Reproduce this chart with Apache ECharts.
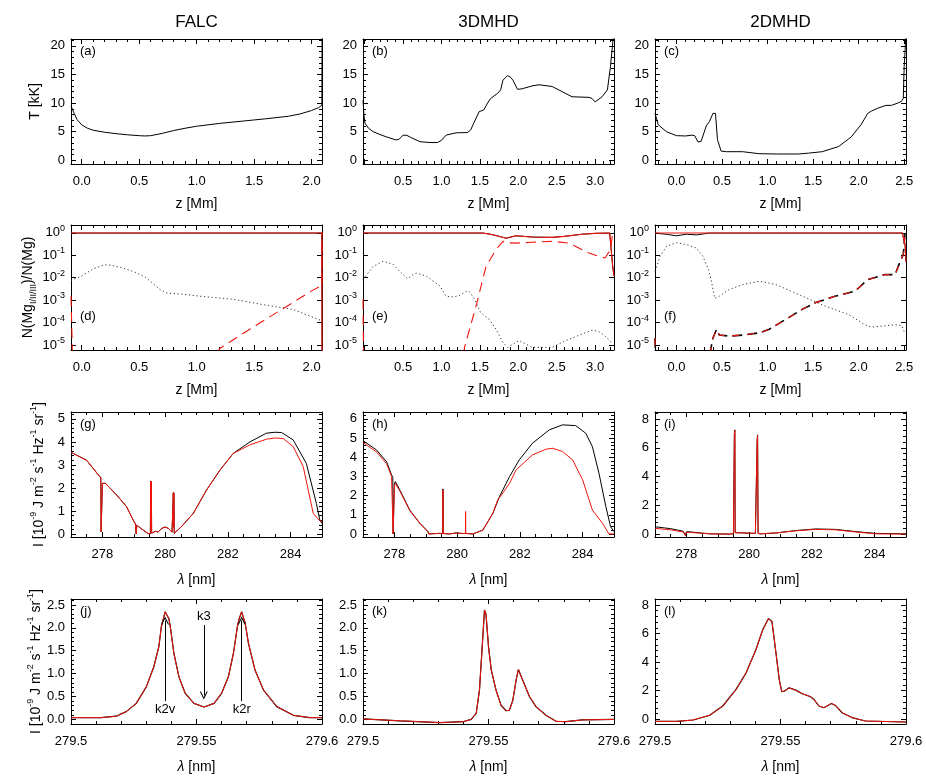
<!DOCTYPE html>
<html><head><meta charset="utf-8">
<script src="https://cdn.jsdelivr.net/npm/echarts@6/dist/echarts.min.js"></script>
<style>html,body{margin:0;padding:0;background:#fff}#c{width:926px;height:780px}</style>
</head><body><div id="c"></div>
<script>
// ---------------- data ----------------
const modelNames = ['FALC', '3DMHD', '2DMHD'];
const panelLetters = ['(a)','(b)','(c)','(d)','(e)','(f)','(g)','(h)','(i)','(j)','(k)','(l)'];

// axis ranges
const zRange = [[-0.093, 2.09], [-0.022, 3.246], [-0.236, 2.52]];
const tRange = [-0.65, 21.2];
const fracRange = [6.03e-6, 2.24];
const specRange = [277, 285];
const specYRange = [[-0.13, 5.3], [-0.16, 6.36], [-0.2, 8.49]];
const lineXRange = [279.5, 279.6];
const lineYRange = [[-0.1, 2.63], [-0.1, 2.63], [-0.33, 8.42]];

// Row 1: temperature [kK] vs z [Mm]
const falcT = [[-0.093,9.5],[-0.07,8.4],[-0.04,7.1],[0.0,6.2],[0.05,5.6],[0.1,5.25],[0.2,4.9],[0.3,4.65],[0.4,4.45],[0.5,4.3],[0.55,4.25],[0.6,4.3],[0.7,4.7],[0.8,5.2],[0.9,5.6],[1.0,5.95],[1.2,6.45],[1.4,6.85],[1.5,7.05],[1.6,7.25],[1.8,7.7],[1.9,8.1],[2.0,8.7],[2.06,9.2],[2.089,9.6],[2.091,25]];
const mhd3T = [[-0.022,10.5],[-0.01,8.0],[0.003,6.5],[0.05,5.6],[0.11,5.0],[0.2,4.5],[0.28,4.1],[0.41,3.55],[0.45,3.7],[0.5,4.4],[0.55,4.35],[0.6,4.0],[0.72,3.25],[0.85,3.1],[0.95,3.1],[1.0,3.5],[1.06,4.4],[1.19,4.8],[1.34,4.85],[1.38,5.3],[1.41,6.2],[1.49,8.5],[1.55,8.8],[1.6,10.0],[1.64,10.8],[1.73,11.7],[1.77,12.3],[1.8,14.0],[1.86,14.8],[1.9,14.5],[1.93,14.0],[1.99,12.4],[2.05,12.5],[2.18,13.0],[2.27,13.2],[2.44,12.9],[2.57,12.0],[2.7,11.1],[2.92,11.0],[2.96,10.8],[3.0,10.2],[3.09,11.1],[3.16,12.3],[3.2,16.4],[3.24,22]];
const mhd2T = [[-0.236,8.2],[-0.2,6.2],[-0.11,5.0],[0.0,4.3],[0.1,4.25],[0.17,4.4],[0.2,4.3],[0.236,3.2],[0.27,3.3],[0.327,6.0],[0.363,6.8],[0.4,8.2],[0.428,8.2],[0.45,3.6],[0.49,1.6],[0.55,1.5],[0.726,1.5],[0.907,1.15],[1.1,1.1],[1.34,1.1],[1.45,1.25],[1.6,1.5],[1.78,2.4],[1.92,4.1],[2.03,6.3],[2.1,8.2],[2.14,8.6],[2.21,9.1],[2.3,9.6],[2.36,9.6],[2.43,10.0],[2.47,10.3],[2.49,10.8],[2.5,16.4],[2.52,22]];

// Row 2: ion fractions (Mg I dotted, Mg II solid, Mg III dashed)
const falcMgI = [[-0.093,7.5e-3],[0.0,0.012],[0.1,0.025],[0.2,0.038],[0.25,0.036],[0.35,0.028],[0.45,0.019],[0.55,0.011],[0.62,0.0055],[0.68,0.003],[0.74,0.0021],[0.9,0.0018],[1.03,0.0015],[1.32,0.0011],[1.61,0.00059],[1.84,0.00039],[1.95,0.00023],[2.09,0.00012]];
const falcMgII = [[-0.093,0.98],[2.089,0.98],[2.091,1e-7]];
const falcMgIII = [[-0.093,1.5e-3],[-0.08,3e-6],[1.17,3e-6],[1.2,7e-6],[1.4,3.2e-5],[1.6,1.4e-4],[1.8,6e-4],[2.0,2.6e-3],[2.089,4.5e-3],[2.091,1]];
const mhd3MgI = [[-0.022,8.3e-3],[0.11,0.032],[0.24,0.054],[0.37,0.04],[0.45,0.02],[0.56,0.009],[0.63,0.014],[0.67,0.016],[0.8,0.012],[0.98,0.0043],[1.06,0.0015],[1.15,0.0014],[1.23,0.0016],[1.32,0.0025],[1.36,0.0025],[1.43,0.0011],[1.51,2.8e-4],[1.62,1.4e-4],[1.71,5.1e-5],[1.8,1.3e-5],[1.86,7.9e-6],[2.01,1.6e-5],[2.18,7.9e-6],[2.44,7.9e-6],[2.62,1.6e-5],[2.96,4.6e-5],[3.05,4e-5],[3.13,2.5e-5],[3.22,1.26e-5]];
const mhd3MgII = [[-0.022,0.98],[1.54,0.98],[1.65,0.85],[1.75,0.7],[1.84,0.58],[1.97,0.74],[2.18,0.65],[2.44,0.63],[2.6,0.7],[2.83,0.87],[3.0,0.95],[3.19,0.98],[3.21,0.8],[3.23,0.03],[3.246,0.012]];
const mhd3MgIII = [[-0.022,1.1e-3],[-0.015,3e-6],[1.28,3e-6],[1.30,8e-6],[1.45,5.5e-4],[1.58,0.032],[1.71,0.18],[1.8,0.42],[1.84,0.36],[1.97,0.35],[2.18,0.38],[2.44,0.42],[2.66,0.35],[2.8,0.2],[2.92,0.126],[3.05,0.089],[3.13,0.076],[3.2,0.18],[3.23,1.0]];
const mhd2MgI = [[-0.236,0.0195],[-0.18,0.089],[-0.11,0.25],[0.0,0.37],[0.11,0.3],[0.22,0.21],[0.29,0.089],[0.35,0.023],[0.38,0.0083],[0.42,1.2e-3],[0.47,1.5e-3],[0.58,3e-3],[0.73,5e-3],[0.91,7e-3],[1.09,5e-3],[1.34,1.8e-3],[1.63,5.5e-4],[1.89,2.3e-4],[2.07,8e-5],[2.14,6.3e-5],[2.4,8e-5],[2.47,7.5e-5],[2.5,4e-5]];
const mhd2MgIIBlack = [[-0.236,0.98],[-0.1,0.85],[0.0,0.74],[0.11,0.87],[0.22,0.81],[0.36,0.98],[2.48,0.98],[2.5,0.9],[2.51,0.3],[2.52,0.05]];
const mhd2MgIIRed = [[-0.236,0.98],[2.48,0.98],[2.5,0.9],[2.51,0.3],[2.52,0.05]];
const mhd2MgIII = [[-0.236,2e-5],[-0.23,3e-6],[0.36,3e-6],[0.4,2e-5],[0.44,5e-5],[0.47,2.8e-5],[0.58,2.5e-5],[0.73,2.8e-5],[0.91,3.5e-5],[1.02,5.1e-5],[1.2,1.4e-4],[1.38,3.9e-4],[1.53,7.8e-4],[1.74,1.5e-3],[1.96,2.5e-3],[2.1,8.3e-3],[2.29,0.0138],[2.4,0.0138],[2.45,0.046],[2.49,0.107],[2.51,1.0]];

// Row 3: full spectra, I [1e-9 J m-2 s-1 Hz-1 sr-1] vs lambda [nm]
const falcSpecCommon = [[277.0,3.55],[277.5,3.2],[277.87,2.57],[277.95,2.45],[277.96,0.1],[277.98,0.1],[278.0,2.2],[278.05,2.27],[278.1,2.2],[278.45,1.7],[278.77,1.19],[278.98,0.61],[279.05,0.45],[279.075,0.4],[279.08,0.0],[279.09,0.0],[279.095,0.38],[279.3,0.17],[279.46,0.02],[279.53,0.02],[279.537,2.3],[279.545,0.5],[279.553,0.3],[279.561,2.3],[279.57,0.04],[279.62,0.06],[279.7,0.12],[279.77,0.08],[279.79,0.0],[279.81,0.08],[279.9,0.25],[280.0,0.3],[280.1,0.25],[280.22,0.08],[280.255,0.03],[280.262,1.8],[280.27,0.3],[280.278,1.78],[280.29,0.03],[280.33,0.04],[280.52,0.32],[280.9,0.9],[281.32,1.91],[281.75,2.78],[282.17,3.5]];
const falcSpecBlackTail = [[282.7,4.0],[283.23,4.38],[283.5,4.42],[283.71,4.41],[284.08,4.09],[284.5,3.07],[284.82,1.33],[284.93,0.61],[285,0.45]];
const falcSpecRedTail = [[282.7,3.87],[283.23,4.12],[283.5,4.17],[283.76,4.15],[284.08,3.8],[284.4,2.93],[284.72,0.9],[284.9,0.61],[285,0.54]];
const mhd3SpecBlack = [[277.0,4.87],[277.43,4.38],[277.75,3.77],[277.91,3.08],[277.95,2.95],[277.96,0.0],[277.99,0.0],[278.0,2.6],[278.03,2.73],[278.17,2.3],[278.49,1.25],[278.81,0.56],[279.07,0.12],[279.09,0.0],[279.11,0.1],[279.44,0.03],[279.54,0.02],[279.548,2.35],[279.556,0.02],[279.76,0.0],[279.97,0.05],[280.2,0.02],[280.27,0.03],[280.5,0.0],[280.82,0.2],[281.14,1.08],[281.35,1.95],[281.67,2.99],[281.98,3.86],[282.4,4.73],[282.94,5.43],[283.36,5.69],[283.78,5.65],[284.1,5.25],[284.31,4.56],[284.52,3.17],[284.74,1.43],[284.89,0.38],[285,0.12]];
const mhd3SpecRed = [[277.0,4.77],[277.43,4.28],[277.75,3.67],[277.91,3.0],[277.95,2.9],[277.96,0.0],[277.99,0.0],[278.0,2.5],[278.03,2.63],[278.17,2.25],[278.49,1.22],[278.81,0.55],[279.07,0.12],[279.09,0.0],[279.11,0.1],[279.44,0.03],[279.54,0.02],[279.548,2.3],[279.556,0.02],[279.76,0.0],[279.97,0.05],[280.2,0.02],[280.265,0.02],[280.27,1.17],[280.275,0.02],[280.5,0.0],[280.82,0.2],[281.14,1.08],[281.3,1.8],[281.4,2.0],[281.67,2.64],[281.88,3.34],[282.4,4.12],[282.83,4.42],[283.04,4.47],[283.36,4.3],[283.68,3.86],[284.0,2.82],[284.31,1.25],[284.63,0.56],[284.84,0.0],[285,0.0]];
const mhd2SpecBlack = [[277.0,0.51],[277.5,0.38],[277.9,0.2],[277.96,0.16],[277.97,-0.1],[277.99,-0.1],[278.0,0.16],[278.1,0.16],[278.74,0.02],[279.37,0.0],[279.5,0.03],[279.53,7.0],[279.545,7.25],[279.555,0.1],[279.6,0.05],[280.2,0.05],[280.255,6.5],[280.27,6.9],[280.285,0.05],[280.35,0.02],[280.85,0.08],[281.49,0.25],[282.12,0.36],[282.75,0.33],[283.38,0.18],[284.02,0.05],[285,0.02]];
const mhd2SpecRed = [[277.0,0.4],[277.5,0.3],[277.9,0.15],[277.96,0.12],[277.97,-0.1],[277.99,-0.1],[278.0,0.12],[278.1,0.12],[278.74,0.02],[279.37,0.0],[279.5,0.03],[279.53,7.0],[279.545,7.2],[279.555,0.1],[279.6,0.05],[280.2,0.05],[280.255,6.5],[280.27,6.85],[280.285,0.05],[280.35,0.02],[280.85,0.08],[281.49,0.23],[282.12,0.33],[282.75,0.3],[283.38,0.15],[284.02,0.02],[285,0.0]];

// Row 4: Mg II k line profiles
const falcK = [[279.5,0.04],[279.512,0.04],[279.518,0.07],[279.522,0.17],[279.526,0.35],[279.53,0.71],[279.533,1.15],[279.535,1.59],[279.536,2.03],[279.5375,2.35],[279.539,2.2],[279.5395,2.05],[279.541,1.44],[279.543,0.93],[279.5455,0.57],[279.549,0.35],[279.553,0.27],[279.557,0.35],[279.56,0.57],[279.5627,0.93],[279.5647,1.44],[279.5663,2.03],[279.567,2.2],[279.568,2.35],[279.5694,2.1],[279.5707,1.66],[279.5733,1.08],[279.5767,0.64],[279.582,0.28],[279.5886,0.09],[279.595,0.04],[279.6,0.04]];
const mhd3K = [[279.5,0.01],[279.5147,-0.03],[279.5306,-0.07],[279.5398,-0.05],[279.5431,0.0],[279.5451,0.13],[279.5464,0.64],[279.5475,1.59],[279.5484,2.39],[279.549,2.3],[279.55,1.59],[279.5511,1.08],[279.553,0.64],[279.555,0.31],[279.557,0.19],[279.5583,0.2],[279.5597,0.42],[279.561,0.86],[279.5619,1.09],[279.5626,1.06],[279.5636,0.86],[279.5663,0.5],[279.5689,0.28],[279.5729,0.09],[279.5769,-0.04],[279.5808,-0.05],[279.5874,-0.01],[279.6,0.0]];
const mhd2K = [[279.5,-0.15],[279.5086,-0.15],[279.5152,-0.05],[279.5218,0.28],[279.527,0.93],[279.5323,2.09],[279.5363,3.25],[279.5402,4.87],[279.5429,6.26],[279.5452,7.05],[279.5466,6.84],[279.5482,4.64],[279.5495,2.78],[279.5505,1.93],[279.5515,1.97],[279.5534,2.2],[279.5561,2.04],[279.5587,1.79],[279.562,1.58],[279.5633,1.39],[279.5653,0.93],[279.5673,0.81],[279.5703,1.11],[279.5719,0.97],[279.5745,0.46],[279.5785,0.12],[279.5838,-0.12],[279.6,-0.19]];

// k-line feature annotations (panel j): [lambda, yFrom, yTo]
const k2vMark = [279.5375, 0.40, 2.16];
const k3Mark  = [279.5529, 2.06, 0.52];
const k2rMark = [279.5680, 0.40, 2.16];

// ---------------- layout / style ----------------
const FONT = 'Liberation Sans, Arial, Helvetica, sans-serif';
const COL_LEFT = [71, 363, 655], COL_W = 251;
const ROW_TOP = [39, 225, 412, 599], ROW_H = 125;
const RED = '#f2150c', BLACK = '#000';

const grids = [], xAxes = [], yAxes = [], series = [], graphics = [];

function stepFmt(step, dec, minHide) {
  return function (v) {
    const q = v / step;
    if (Math.abs(q - Math.round(q)) > 1e-6) return '';
    if (minHide !== undefined && v - minHide < 0.05) return '';
    return v.toFixed(dec);
  };
}
function logFmt(v) {
  const e = Math.log10(v), r = Math.round(e);
  if (Math.abs(e - r) > 1e-3) return '';
  return '{b|10}{e|' + r + '}';
}
const tickLbl = { color: '#000', fontSize: 13, fontFamily: FONT };
const supRich = {
  n: { fontSize: 14, fontFamily: FONT, color: '#000', lineHeight: 20 },
  i: { fontSize: 14, fontFamily: FONT, color: '#000', lineHeight: 20, fontStyle: 'italic' },
  sup: { fontSize: 9, fontFamily: FONT, color: '#000', lineHeight: 9, verticalAlign: 'top' },
  sub: { fontSize: 9, fontFamily: FONT, color: '#000', lineHeight: 9, verticalAlign: 'bottom' }
};
const intensityName = '{n|I [10}{sup|-9}{n| J m}{sup|-2}{n| s}{sup|-1}{n| Hz}{sup|-1}{n| sr}{sup|-1}{n|]}';

function addPanel(p, row, col, xc, yc) {
  grids.push({ left: COL_LEFT[col], top: ROW_TOP[row], width: COL_W, height: ROW_H });
  const axLine = { show: true, onZero: false, lineStyle: { color: '#000', width: 1 } };
  const tick = { show: true, inside: true, length: 5, lineStyle: { color: '#000', width: 1 } };
  const baseX = {
    gridIndex: p, type: 'value', min: xc.min, max: xc.max, scale: true,
    splitNumber: xc.split || 5, splitLine: { show: false }, axisLine: axLine, axisTick: tick,
    minorTick: { show: true, splitNumber: xc.minor || 5, length: 3, lineStyle: { color: '#000', width: 1 } }
  };
  if (xc.interval) baseX.interval = xc.interval;
  xAxes.push(Object.assign({}, baseX, {
    position: 'bottom',
    axisLabel: Object.assign({ show: true, margin: 11, formatter: xc.fmt }, tickLbl),
    name: xc.name, nameLocation: 'middle', nameGap: 33,
    nameTextStyle: { fontSize: 14, fontFamily: FONT, color: '#000', rich: supRich }
  }));
  xAxes.push(Object.assign({}, baseX, { position: 'top', axisLabel: { show: false } }));

  const baseY = {
    gridIndex: p, type: yc.log ? 'log' : 'value', min: yc.min, max: yc.max,
    splitLine: { show: false }, axisLine: axLine, axisTick: tick
  };
  if (yc.log) { baseY.logBase = 10; }
  else {
    baseY.scale = true; baseY.splitNumber = 5;
    baseY.minorTick = { show: true, splitNumber: yc.minor || 5, length: 3, lineStyle: { color: '#000', width: 1 } };
  }
  const yl = Object.assign({ show: true, margin: 6, formatter: yc.fmt }, tickLbl);
  if (yc.log) yl.rich = {
    b: { fontSize: 13, fontFamily: FONT, color: '#000', lineHeight: 18 },
    e: { fontSize: 9, fontFamily: FONT, color: '#000', lineHeight: 9, verticalAlign: 'top' }
  };
  yAxes.push(Object.assign({}, baseY, {
    position: 'left', axisLabel: yl,
    name: col === 0 ? yc.name : '', nameLocation: 'middle', nameRotate: 90, nameGap: yc.gap || 30,
    nameTextStyle: { fontSize: 14, fontFamily: FONT, color: '#000', rich: supRich }
  }));
  yAxes.push(Object.assign({}, baseY, { position: 'right', axisLabel: { show: false } }));

  graphics.push({
    type: 'text', x: COL_LEFT[col] + 9, y: ROW_TOP[row] + (row === 1 ? 91 : 12), silent: true,
    style: { text: panelLetters[p], fontSize: 13, fontFamily: FONT, fill: '#000',
      textAlign: 'left', textVerticalAlign: 'middle', align: 'left', verticalAlign: 'middle' }
  });
}

function addLine(p, data, color, width, type, extra) {
  series.push(Object.assign({
    type: 'line', xAxisIndex: 2 * p, yAxisIndex: 2 * p, data: data,
    symbol: 'none', showSymbol: false, animation: false, silent: true, clip: true,
    lineStyle: { color: color, width: width, type: type }
  }, extra || {}));
}

// Row 1
const tData = [falcT, mhd3T, mhd2T];
for (let c = 0; c < 3; c++) {
  const p = c;
  addPanel(p, 0, c,
    { min: zRange[c][0], max: zRange[c][1], fmt: stepFmt(0.5, 1, zRange[c][0]), name: 'z [Mm]' },
    { min: tRange[0], max: tRange[1], fmt: stepFmt(5, 0), name: 'T [kK]', gap: 29 });
  addLine(p, tData[c], BLACK, 1, 'solid');
}
// Row 2
const mgI = [falcMgI, mhd3MgI, mhd2MgI];
const mgIIBlack = [falcMgII, mhd3MgII, mhd2MgIIBlack];
const mgIIRed = [falcMgII, mhd3MgII, mhd2MgIIRed];
const mgIII = [falcMgIII, mhd3MgIII, mhd2MgIII];
for (let c = 0; c < 3; c++) {
  const p = 3 + c;
  addPanel(p, 1, c,
    { min: zRange[c][0], max: zRange[c][1], fmt: stepFmt(0.5, 1, zRange[c][0]), name: 'z [Mm]' },
    { log: true, min: fracRange[0], max: fracRange[1], fmt: logFmt,
      name: '{n|N(Mg}{sub|I/II/III}{n|)/N(Mg)}', gap: 33 });
  addLine(p, mgI[c], '#333', 1, [1.2, 2.6]);
  addLine(p, mgIIBlack[c], BLACK, 1, 'solid');
  if (c === 2) addLine(p, mgIII[c], BLACK, 1.6, [10, 5]);
  addLine(p, mgIIRed[c], RED, 1.1, 'solid');
  addLine(p, mgIII[c], RED, 1.1, c === 2 ? [7, 8] : [10, 6]);
}
// Row 3
const specBlack = [falcSpecCommon.concat(falcSpecBlackTail), mhd3SpecBlack, mhd2SpecBlack];
const specRed = [falcSpecCommon.concat(falcSpecRedTail), mhd3SpecRed, mhd2SpecRed];
for (let c = 0; c < 3; c++) {
  const p = 6 + c;
  addPanel(p, 2, c,
    { min: specRange[0], max: specRange[1], minor: 4, fmt: stepFmt(2, 0), name: '{i|λ} [nm]' },
    { min: specYRange[c][0], max: specYRange[c][1], fmt: stepFmt(c === 2 ? 2 : 1, 0), name: intensityName, gap: 22 });
  addLine(p, specBlack[c], BLACK, 1, 'solid');
  addLine(p, specRed[c], RED, 1, 'solid');
}
// Row 4
const kData = [falcK, mhd3K, mhd2K];
for (let c = 0; c < 3; c++) {
  const p = 9 + c;
  addPanel(p, 3, c,
    { min: lineXRange[0], max: lineXRange[1], interval: 0.05, fmt: v => String(+v.toFixed(3)), name: '{i|λ} [nm]' },
    { min: lineYRange[c][0], max: lineYRange[c][1], fmt: c === 2 ? stepFmt(2, 0) : stepFmt(0.5, 1), name: intensityName, gap: 22 });
  addLine(p, kData[c], BLACK, 1.2, 'solid');
  const extra = {};
  if (c === 0) {
    const chevron = 'path://M0,10L5,0L10,10L8.6,10L5,2.8L1.4,10Z';
    const mk = (m, name) => [
      { name: name, coord: [m[0], m[1]], symbol: 'none' },
      { name: name, coord: [m[0], m[2]], symbol: chevron, symbolSize: [8, 8] }
    ];
    extra.markLine = {
      silent: true, animation: false, symbol: ['none', chevron], symbolSize: [8, 8],
      lineStyle: { color: '#000', width: 1, type: 'solid' },
      label: { show: true, position: 'start', formatter: '{b}', color: '#000', fontSize: 13, fontFamily: FONT, distance: 2 },
      emphasis: { disabled: true },
      data: [mk(k2vMark, 'k2v'), mk(k3Mark, 'k3'), mk(k2rMark, 'k2r')]
    };
  }
  addLine(p, kData[c], RED, 1, 'solid', extra);
}

for (let c = 0; c < 3; c++) {
  graphics.push({
    type: 'text', x: COL_LEFT[c] + COL_W / 2, y: 22, silent: true,
    style: { text: modelNames[c], fontSize: 17, fontFamily: FONT, fill: '#000',
      textAlign: 'center', textVerticalAlign: 'middle', align: 'center', verticalAlign: 'middle' }
  });
}

const chart = echarts.init(document.getElementById('c'), null, { renderer: 'canvas' });
chart.setOption({
  backgroundColor: '#fff', animation: false,
  grid: grids, xAxis: xAxes, yAxis: yAxes, series: series, graphic: graphics
});
</script></body></html>
